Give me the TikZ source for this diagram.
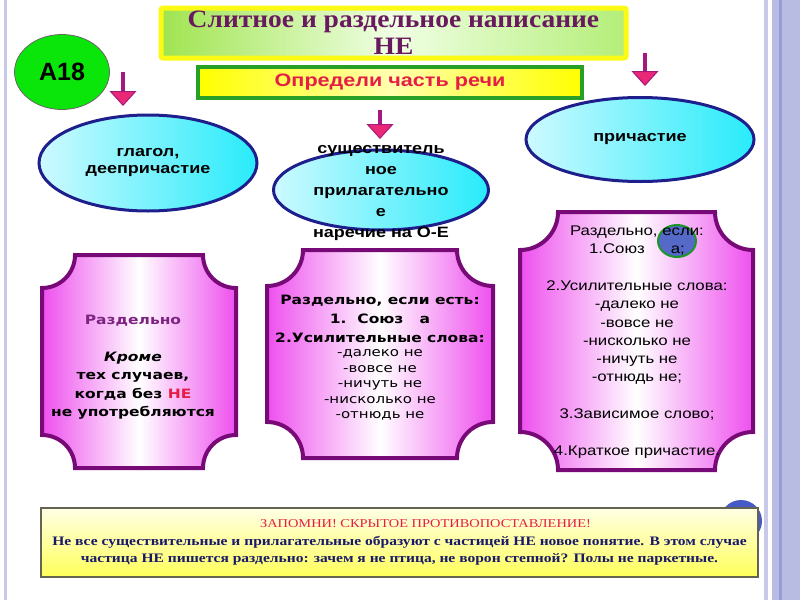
\documentclass[tikz,border=0pt]{standalone}
\usepackage{fontspec}
\setmainfont{Liberation Serif}
\newfontfamily\titlefont{Liberation Serif}[FakeStretch=1.1]
\newfontfamily\notefont{Liberation Serif}[FakeStretch=1.2]
\newfontfamily\labelfont{Liberation Sans}[FakeStretch=1.2]
\newfontfamily\badgefont{Liberation Sans}
\newfontfamily\plaquefont{DejaVu Sans}[FakeStretch=1.2]
\usetikzlibrary{shapes.geometric,arrows.meta}

\definecolor{framelight}{RGB}{200,200,232}
\definecolor{frameband}{RGB}{184,188,226}
\definecolor{framedark}{RGB}{150,156,212}
\definecolor{titleyellow}{RGB}{250,250,20}
\definecolor{titlegreen}{RGB}{160,228,80}
\definecolor{titlewhite}{RGB}{240,255,228}
\definecolor{titlegreenb}{RGB}{180,238,120}
\definecolor{titlepurple}{RGB}{105,25,95}
\definecolor{badgegreen}{RGB}{10,230,10}
\definecolor{partgreen}{RGB}{40,160,40}
\definecolor{partyellow}{RGB}{255,255,0}
\definecolor{partlight}{RGB}{255,255,175}
\definecolor{partred}{RGB}{230,30,70}
\definecolor{arrowpurple}{RGB}{165,25,125}
\definecolor{arrowpink}{RGB}{235,40,120}
\definecolor{ovalblue}{RGB}{30,30,140}
\definecolor{ovallight}{RGB}{205,250,255}
\definecolor{ovalcyan}{RGB}{40,235,250}
\definecolor{plaquepurple}{RGB}{120,10,120}
\definecolor{plaquepink}{RGB}{238,80,238}
\definecolor{headpurple}{RGB}{125,35,130}
\definecolor{dotblue}{RGB}{85,105,200}
\definecolor{dotgreen}{RGB}{30,150,40}
\definecolor{noteblue}{RGB}{70,90,200}
\definecolor{noteline}{RGB}{100,100,80}
\definecolor{notelight}{RGB}{255,255,230}
\definecolor{noteyellow}{RGB}{255,255,90}
\definecolor{notenavy}{RGB}{25,25,105}

% plaque: rectangle with concave corners {style}{x1}{y1}{x2}{y2}{r}
\newcommand{\plaque}[6]{%
  \draw[#1] ({#2+#6},#3) -- ({#4-#6},#3)
    arc[start angle=180, end angle=90, radius=#6] -- (#4,{#5-#6})
    arc[start angle=270, end angle=180, radius=#6] -- ({#2+#6},#5)
    arc[start angle=0, end angle=-90, radius=#6] -- (#2,{#3+#6})
    arc[start angle=90, end angle=0, radius=#6] -- cycle;}

\begin{document}
\begin{tikzpicture}[x=1pt, y=-1pt,
    oval/.style={ellipse, draw=ovalblue, line width=3pt, left color=ovallight, right color=ovalcyan,
      inner sep=0pt, align=center, font=\labelfont\bfseries\fontsize{15}{17}\selectfont},
    plaque/.style={draw=plaquepurple, line width=4pt, left color=plaquepink, right color=plaquepink, middle color=white},
    pointer/.style={draw=arrowpurple, line width=4pt,
      -{Triangle[width=27pt, length=15pt, fill=arrowpink, line width=1pt]}}]
  \useasboundingbox (0,0) rectangle (800,600);

  % --- frame of the slide ---
  \fill[framelight] (4,0) rectangle (7,600);
  \fill[framelight] (764,0) rectangle (768,600);
  \fill[frameband] (772,0) rectangle (800,600);
  \fill[framedark] (779,0) rectangle (782,600);

  % --- title and task ---
  \node[draw=titleyellow, line width=5pt, rounded corners=2pt, left color=titlegreen, right color=titlegreenb,
    middle color=titlewhite, minimum width=465pt, minimum height=50pt, inner sep=0pt, align=center,
    text=titlepurple, font=\titlefont\bfseries\fontsize{25}{27}\selectfont] (title) at (393.5,33)
    {Слитное и раздельное написание\\НЕ};
  \node[ellipse, draw=black!60, line width=0.8pt, fill=badgegreen, minimum width=95pt, minimum height=75pt,
    font=\badgefont\bfseries\fontsize{25}{30}\selectfont] (badge) at (62,72) {A18};
  \node[draw=partgreen, line width=3.5pt, left color=partyellow, right color=partyellow, middle color=partlight,
    minimum width=384pt, minimum height=31pt, inner sep=0pt, text=partred,
    font=\labelfont\bfseries\fontsize{18}{20}\selectfont] (part) at (390,82.5) {Определи часть речи};

  % стрелки вниз
  \coordinate (verbtop) at (123,72);
  \coordinate (verbend) at (123,106);
  \coordinate (nountop) at (380,110);
  \coordinate (nounend) at (380,139);
  \coordinate (parttop) at (645,53);
  \coordinate (partend) at (645,86);
  \draw[pointer] (verbtop) -- (verbend);
  \draw[pointer] (nountop) -- (nounend);
  \draw[pointer] (parttop) -- (partend);

  % --- части речи ---
  \node[oval, minimum width=218pt, minimum height=96pt] (verb) at (148,163) {глагол,\\деепричастие};
  \node[oval, minimum width=215pt, minimum height=80pt] (noun) at (381,190) {};
  \node[align=center, inner sep=0pt, font=\labelfont\bfseries\fontsize{15}{21}\selectfont] (nountext)
    at (381,193) {существитель\\ное\\прилагательно\\е\\наречие на О-Е};
  \node[oval, minimum width=228pt, minimum height=84pt] (participle) at (640,139.5) {причастие};

  % --- правила ---
  \plaque{plaque}{42}{255}{236}{468}{33}
  \plaque{plaque}{267}{250}{493}{458}{36}
  \plaque{plaque}{520}{212}{753}{470}{38}

  \node[align=center, font=\plaquefont\bfseries\fontsize{12.9}{18.5}\selectfont] (verbrule) at (133,367)
    {\textcolor{headpurple}{Раздельно}\\[18.5pt]\textit{Кроме}\\тех случаев,\\когда без \textcolor{partred}{НЕ}\\не употребляются};
  \node[align=center, font=\plaquefont\bfseries\fontsize{12.9}{19}\selectfont] (nounrule) at (380,319)
    {Раздельно, если есть:\\1.\ \ Союз\ \ \ а\\2.Усилительные слова:};
  \node[align=center, font=\plaquefont\fontsize{12.5}{15.5}\selectfont] (nounlist) at (380,385)
    {-далеко не\\-вовсе не\\-ничуть не\\-нисколько не\\-отнюдь не};

  \node[ellipse, fill=dotblue, draw=dotgreen, line width=2pt, minimum width=38pt, minimum height=32pt] (dot) at (677,241) {};
  \node[align=center, font=\labelfont\fontsize{14}{18.3}\selectfont] (partrule) at (637,342)
    {Раздельно, если:\\1.Союз\hspace{26pt}а;\\[18.3pt]2.Усилительные слова:\\-далеко не\\-вовсе не\\-нисколько не\\-ничуть не\\-отнюдь не;\\[18.3pt]3.Зависимое слово;\\[18.3pt]4.Краткое причастие.};

  % --- запомни ---
  \node[circle, fill=noteblue, minimum size=42pt, inner sep=0pt] (notedot) at (741,521) {};
  \node[draw=noteline, line width=1.2pt, top color=notelight, bottom color=noteyellow, minimum width=717pt,
    minimum height=69pt, inner sep=0pt, align=center, font=\notefont\fontsize{12.95}{17.5}\selectfont] (note) at (399.5,542.5)
    {\hspace*{52pt}{\fontsize{12}{17.5}\selectfont\color{partred}ЗАПОМНИ! СКРЫТОЕ ПРОТИВОПОСТАВЛЕНИЕ!}\\
     {\color{notenavy}\bfseries Не все существительные и прилагательные образуют с частицей НЕ новое понятие. В этом случае}\\
     {\color{notenavy}\bfseries частица НЕ пишется раздельно: зачем я не птица, не ворон степной? Полы не паркетные.}};
\end{tikzpicture}
\end{document}
